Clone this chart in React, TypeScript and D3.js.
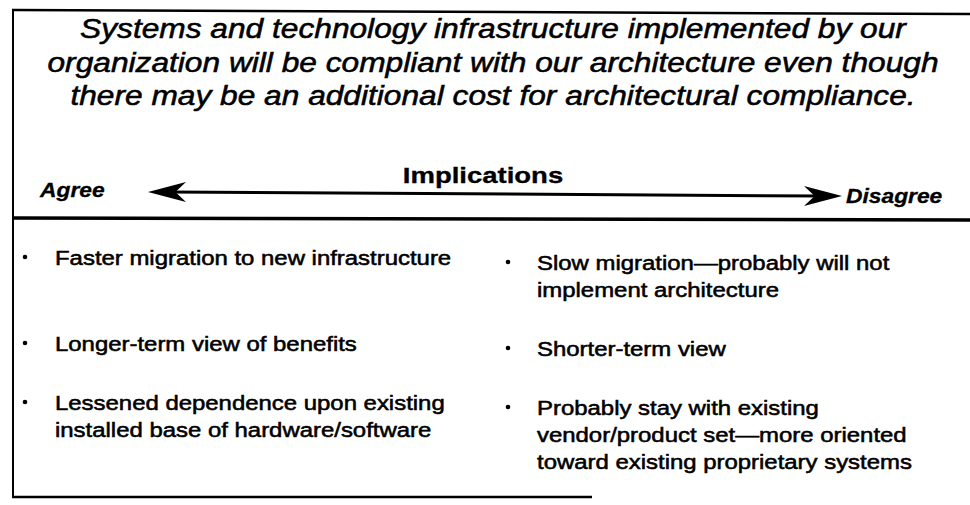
import * as d3 from "d3";
import { useEffect, useRef } from "react";

// Statement and implications
const statementLines = [
  "Systems and technology infrastructure implemented by our",
  "organization will be compliant with our architecture even though",
  "there may be an additional cost for architectural compliance.",
];
const heading = "Implications";
const scaleEnds = ["Agree", "Disagree"];
const agreeItems = [
  ["Faster migration to new infrastructure"],
  ["Longer-term view of benefits"],
  ["Lessened dependence upon existing", "installed base of hardware/software"],
];
const disagreeItems = [
  ["Slow migration\u2014probably will not", "implement architecture"],
  ["Shorter-term view"],
  [
    "Probably stay with existing",
    "vendor/product set\u2014more oriented",
    "toward existing proprietary systems",
  ],
];

const FONT = "'Liberation Sans', Arial, Helvetica, sans-serif";
const SX = 1.14; // the scanned slide is stretched sideways a little

export default function App() {
  const svgRef = useRef<SVGSVGElement | null>(null);
  const width = 970;
  const height = 505;

  useEffect(() => {
    const svg = d3.select(svgRef.current);
    svg.selectAll("*").remove();

    // Frame (the scan sits slightly skewed, right side a bit lower)
    const frame = { left: 13, top: 10, topRight: 14, divider: 218, bottom: 497, bottomEnd: 592 };
    const lines = svg.append("g").attr("stroke", "#000").attr("fill", "none");
    lines
      .append("line")
      .attr("x1", frame.left - 1)
      .attr("x2", width)
      .attr("y1", frame.top)
      .attr("y2", frame.topRight)
      .attr("stroke-width", 2.5);
    lines
      .append("line")
      .attr("x1", frame.left)
      .attr("x2", frame.left)
      .attr("y1", frame.top)
      .attr("y2", frame.bottom)
      .attr("stroke-width", 2);
    lines
      .append("line")
      .attr("x1", frame.left - 1)
      .attr("x2", width)
      .attr("y1", frame.divider)
      .attr("y2", frame.divider + 2)
      .attr("stroke-width", 3.5);
    lines
      .append("line")
      .attr("x1", frame.left - 1)
      .attr("x2", frame.bottomEnd)
      .attr("y1", frame.bottom)
      .attr("y2", frame.bottom)
      .attr("stroke-width", 2.5);

    // helper for stretched text
    const addText = (
      g: d3.Selection<any, unknown, null, undefined>,
      str: string,
      x: number,
      y: number,
      opts: { size: number; anchor?: string; italic?: boolean; bold?: boolean; sx?: number },
    ) =>
      g
        .append("text")
        .attr("transform", `translate(${x},${y}) scale(${opts.sx ?? SX},1)`)
        .attr("text-anchor", opts.anchor ?? "start")
        .attr("font-family", FONT)
        .attr("font-size", opts.size)
        .attr("font-style", opts.italic ? "italic" : "normal")
        .attr("font-weight", opts.bold ? "bold" : "normal")
        .attr("fill", "#000")
        .attr("stroke", "#000")
        .attr("stroke-width", opts.bold ? 0.3 : 0.55)
        .text(str);

    // Statement
    const titleY = d3
      .scaleLinear()
      .domain([0, statementLines.length - 1])
      .range([38, 105]);
    const titleG = svg.append("g");
    statementLines.forEach((t, i) =>
      addText(titleG, t, 493, titleY(i), { size: 27.8, anchor: "middle", italic: true }),
    );

    // Agree <-> Disagree arrow
    const arrowX = d3.scaleLinear().domain([0, 1]).range([148, 842]);
    const arrowY = d3.scaleLinear().domain([0, 1]).range([192, 196]);
    const headLen = 38;
    const headHalf = 10;
    const arrow = svg.append("g");
    arrow
      .append("line")
      .attr("x1", arrowX(0) + 20)
      .attr("x2", arrowX(1) - 20)
      .attr("y1", arrowY(0))
      .attr("y2", arrowY(1))
      .attr("stroke", "#000")
      .attr("stroke-width", 3);
    [0, 1].forEach((end) => {
      const tip = arrowX(end);
      const ty = arrowY(end);
      const dir = end === 0 ? 1 : -1;
      const p = d3.path();
      p.moveTo(tip, ty);
      p.lineTo(tip + dir * headLen, ty - headHalf);
      p.lineTo(tip + dir * headLen * 0.72, ty);
      p.lineTo(tip + dir * headLen, ty + headHalf);
      p.closePath();
      arrow.append("path").attr("d", p.toString()).attr("fill", "#000");
    });

    const labels = svg.append("g");
    addText(labels, heading, 483, 183, { size: 22, anchor: "middle", bold: true, sx: 1.25 });
    addText(labels, scaleEnds[0], 40, 197, { size: 20, italic: true, bold: true });
    addText(labels, scaleEnds[1], 846, 203, { size: 20, italic: true, bold: true });

    // Bulleted implications in two columns
    const lineH = 27;
    const rowGap = 32;
    const rowTops: number[] = [];
    let y = 265;
    agreeItems.forEach((a, i) => {
      rowTops.push(y);
      y += Math.max(a.length, disagreeItems[i].length) * lineH + rowGap;
    });

    const columns = [
      { items: agreeItems, bulletX: 25, textX: 55, dy: 0 },
      { items: disagreeItems, bulletX: 508, textX: 537, dy: 5 },
    ];
    const body = svg.append("g");
    columns.forEach((col) => {
      col.items.forEach((item, i) => {
        const top = rowTops[i] + col.dy;
        body
          .append("circle")
          .attr("cx", col.bulletX)
          .attr("cy", top - 8)
          .attr("r", 2.3)
          .attr("fill", "#000");
        item.forEach((ln, j) => addText(body, ln, col.textX, top + j * lineH, { size: 21 }));
      });
    });
  }, []);

  return (
    <svg
      ref={svgRef}
      width={width}
      height={height}
      style={{ position: "absolute", left: 0, top: 0, background: "#fff" }}
    ></svg>
  );
}
